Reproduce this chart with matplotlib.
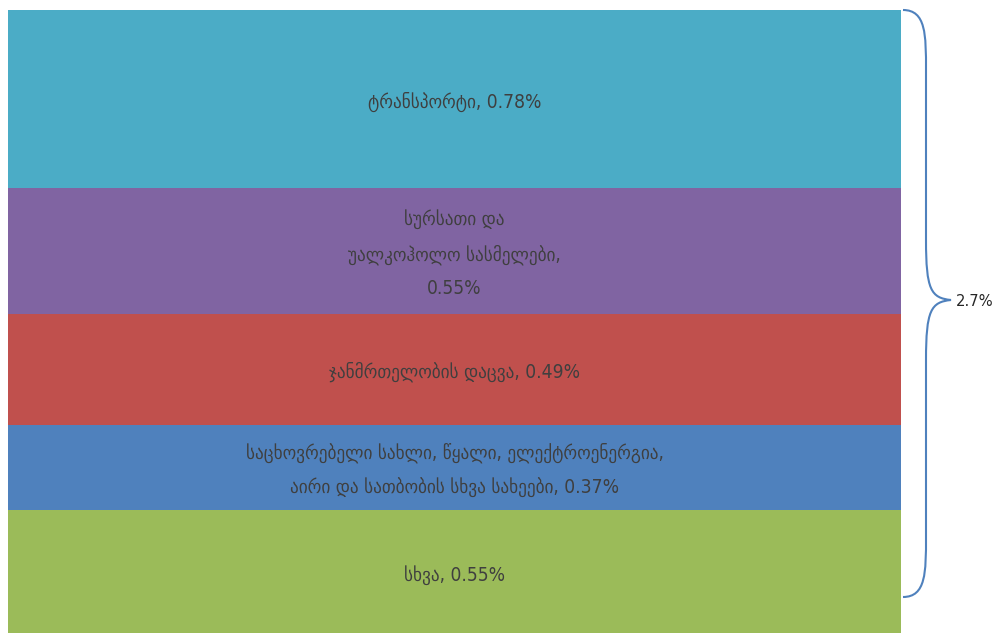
import matplotlib.pyplot as plt
from matplotlib.path import Path
from matplotlib.patches import PathPatch

# stacked components (bottom to top), percent
labels = [
    "სხვა, 0.55%",
    "საცხოვრებელი სახლი, წყალი, ელექტროენერგია,\nაირი და სათბობის სხვა სახეები, 0.37%",
    "ჯანმრთელობის დაცვა, 0.49%",
    "სურსათი და\nუალკოჰოლო სასმელები,\n0.55%",
    "ტრანსპორტი, 0.78%",
]
values = [0.55, 0.37, 0.49, 0.55, 0.78]
colors = ["#9BBB59", "#4F81BD", "#C0504D", "#8064A2", "#4BACC6"]
total_label = "2.7%"

W, H = 995, 633
fig = plt.figure(figsize=(W / 100, H / 100), dpi=100, facecolor="white")

# bar axes in pixel layout
left, right, top = 8, 901, 10
ax = fig.add_axes([left / W, 0, (right - left) / W, 1 - top / H])
ax.set_xlim(-0.5, 0.5)
ax.set_ylim(0.01, sum(values))
ax.axis("off")

base = 0.0
for lab, v, c in zip(labels, values, colors):
    ax.bar(0, v, width=1.0, bottom=base, color=c, edgecolor="none")
    ax.annotate(lab, (0, base + v / 2), xytext=(0, -2), textcoords="offset points",
                ha="center", va="center", color="#3f3f3f",
                fontsize=13.8, family="DejaVu Sans", fontstretch="condensed",
                linespacing=1.95)
    base += v

# curly brace overlay in pixel coordinates
ov = fig.add_axes([0, 0, 1, 1])
ov.set_xlim(0, W)
ov.set_ylim(H, 0)
ov.axis("off")
x0, xm, xt = 903, 926, 951
y0, yc, y1 = 10, 300, 597
verts = [
    (x0, y0), (xm, y0), (xm, y0 + 25), (xm, y0 + 60),
    (xm, yc - 60),
    (xm, yc - 10), (xm + 5, yc - 2), (xt, yc),
    (xm + 5, yc + 2), (xm, yc + 10), (xm, yc + 60),
    (xm, y1 - 60),
    (xm, y1 - 25), (xm, y1), (x0, y1),
]
codes = [Path.MOVETO, Path.CURVE4, Path.CURVE4, Path.CURVE4,
         Path.LINETO,
         Path.CURVE4, Path.CURVE4, Path.CURVE4,
         Path.CURVE4, Path.CURVE4, Path.CURVE4,
         Path.LINETO,
         Path.CURVE4, Path.CURVE4, Path.CURVE4]
ov.add_patch(PathPatch(Path(verts, codes), facecolor="none",
                       edgecolor="#4F81BD", linewidth=1.5))
ov.text(956, yc + 2, total_label, ha="left", va="center", color="#262626",
        fontsize=11.8, family="DejaVu Sans", fontstretch="condensed")

fig.savefig("out.png", dpi=100, facecolor="white")
